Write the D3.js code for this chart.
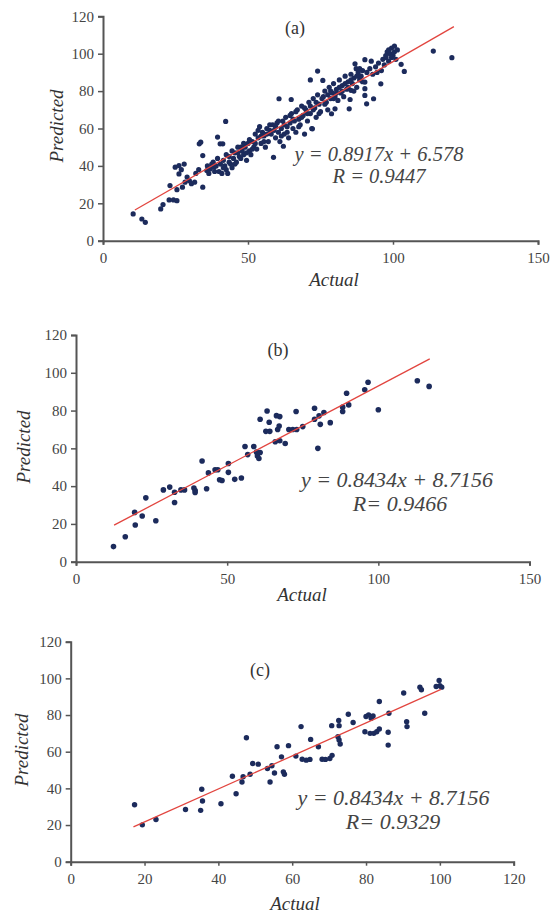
<!DOCTYPE html>
<html>
<head>
<meta charset="utf-8">
<script src="https://cdn.jsdelivr.net/npm/d3@7"></script>
<style>
  body { margin: 0; background: #fff; }
</style>
</head>
<body>
<script>
// panel (a) points
var aActual = [10.4,13.4,14.6,19.9,20.7,22.8,24.3,25.5,23.1,24.9,26.2,28,25.5,27.4,28.3,26.2,27,29.8,31.6,30.5,29,33.2,33.7,34.4,34.4,35.8,37,38.3,36.5,32,33,39.5,40.4,41.3,42.3,38,39,40,41,41.5,42,42.5,43,43.5,44,44.5,45,45.5,46,46.5,47,47.5,48,48.5,49,49.5,50,50.5,51,51.5,52,52.5,53,53.5,54,54.5,55,55.5,56,56.5,57,57.5,58,58.8,59,59.5,60,60.5,60.7,61,61.5,62,62.2,62.5,63,63.5,64,64.5,64.9,65,65.5,66,66.5,67,67.5,68,68.5,69,69.5,70,70.5,71,71.5,71.5,72,72.2,72.5,73,73.5,74,74,74.5,75,75.8,76,76.5,77,77.5,78,78.5,78.8,79,79.5,80,80,80.5,81,81.5,82,82.5,83,83.5,84,84.5,84.9,85.2,85.5,85.5,86,86.5,86.9,87.3,87.5,88,88.5,89,89.5,90.3,90.3,90.3,90.3,90.9,91,92,93,93.3,94,95,95.8,96,96.5,97,97.6,98,98.5,99,99.5,100,100.5,101,101.5,102.8,103.9,113.9,120.3,
  36,37.5,38.5,39.5,40.5,41.5,42.5,43.5,44.5,45.5,46.5,47.5,48.5,49.5,50.5,51.5,52.5,53.5,54.5,55.5,56.5,57.5,58.5,59.5,60.5,61.5,62.5,63.5,64.5,65.5,66.5,67.5,68.5,69.5,70.5,71.5,72.5,73.5,74.5,75.5,76.5,77.5,78.5,79.5,80.5,81.5,82.5,83.5,84.5,85.5,86.5,87.5,88.5,89.5,92.5,94.5,97.5,98.5,99.5,100.5];
var aPredicted = [14.3,11.6,9.8,17,19.3,21.8,21.8,21.4,29.5,39.3,40.2,41,27.3,28.6,31.3,35.7,38,32,31.3,30.5,34,51.8,52.7,45.5,28.6,37.5,38.4,39.3,36,36,38,55.4,51.8,51.8,63.8,42,40,37,36,43,40,38,36,45,41,39,44,47,42,50,45,44,48,46,50,43,52,48,46,53,50,57,49,55,61,52,58,56,50,60,53,62,57,44.6,59,55,63,58,75.9,53,60,64,50.5,57,66,61,55,63,75.5,68,60,64,58,70,65,62,72,67,57,70,64,74,86,68,60,59.8,76,71,66,90.7,78,73,69,85.7,77,80,74,70,82,76,67.9,79,84,70.5,77,81,75,86,79,83,77,88,81,85,70.5,75.5,80.4,89,84,87,94.6,92,82,90,86,88,91,96.8,84.8,81.3,77.7,73.2,90,92,89,75.9,93,95,83.9,91,97,94,98,101,96,100,103,99,101,97,102,94.3,90.5,101.4,97.9,
  40,41,37,44,41,39,46,42,48,41,47,50,52,47,54,49,52,59,56,53,57,59,62,61,64,56,62,58,67,65,69,61,66,71,68,72,70,74,68,76,73,78,80,76,79,82,80,84,82,86,80,88,92,85,96,90,99,102,98,104];

// panel (b)
var bActual = [12.4,16.3,19.4,19.6,21.9,23.1,26.4,28.9,31,32.6,32.6,34.7,35.9,39,39.4,39.4,41.7,43.2,43.8,46,46.9,47.5,48.3,50.4,50.4,52.5,54.7,55.9,56.8,58.8,59.7,60,60.5,60.9,60.9,62.8,63.2,63.9,64.1,65.9,66.3,67.4,66.7,67.2,67.4,69.2,70.4,71.7,72.8,73,75,78.9,78.9,80,80.4,80.8,82,84.1,88.2,88.2,89.5,90.2,95.5,96.6,100,112.9,116.8];
var bPredicted = [8,13.2,26.1,19.4,24.2,33.8,21.7,38,39.5,31.3,36.8,38,38,39,37.7,36.6,53.3,38.6,47,48.7,48.7,43.4,43,52,47.3,43.6,44.3,61,56.7,61,58,56,54.6,75.4,57.8,69,79.8,73.8,69,63.5,77.3,76.8,70,71.8,64,62.6,70,70,79.5,70,71.5,81.2,75.4,60,77.2,72.7,79,73.6,79.5,81.8,89.2,83,91,95,80.4,95.8,92.8];

// panel (c)
var cActual = [17.3,19.4,23.1,31.1,35.2,35.5,35.7,40.7,43.8,44.8,46.4,46.7,47.6,48.6,49.3,50.8,53.3,54,54.5,55.2,55.9,57.1,57.6,57.9,59,61,62.4,62.7,63.8,64.8,65,67.1,68.1,69,70.2,70.8,70.7,72.6,72.7,72.4,72.7,73,75.2,76.5,79.7,80,80.7,81.4,81.9,81.1,82.1,82.9,83.6,83.6,86.2,86,86,90.2,91,91.1,94.6,95,95.9,99,99.8,100,100.5];
var cPredicted = [31.1,20.1,23,28.5,28,39.5,33.1,31.6,46.6,37.1,43.5,46.3,67.6,47.7,53.6,53.2,50.8,43.5,52.3,48.4,62.7,57.2,49,47.7,63.3,57.6,73.7,55.9,55.4,55.8,66.7,62.7,55.9,55.8,56.3,58,74.2,77,74.2,68.2,66.4,64.2,80.4,75.9,70.9,79.2,80.1,78.2,79.5,70,70,70.9,72.4,87.4,81,70.6,63.6,92,76.4,73.7,95.2,93.8,81,95.6,98.9,96,95.2];

// trend lines as drawn
var fitSlope = [0.8917, 0.8434, 0.90];
var fitIntercept = [6.578, 8.7156, 3.7];
var fitFrom = [11, 12.6, 17];
var fitTo = [121, 117, 100.3];

var panelNames = ["(a)", "(b)", "(c)"];
var eqText = ["y = 0.8917x + 6.578", "y = 0.8434x + 8.7156", "y = 0.8434x + 8.7156"];
var rText = ["R = 0.9447", "R= 0.9466", "R= 0.9329"];
var xTicksA = [0, 50, 100, 150];
var xTicksC = [0, 20, 40, 60, 80, 100, 120];
var yTicks = [0, 20, 40, 60, 80, 100, 120];

var serif = "'Liberation Serif', 'Times New Roman', serif";

var svg = d3.select("body").append("svg")
    .attr("width", 551)
    .attr("height", 919)
    .attr("font-family", serif);

/**
  draws one of the three scatter panels
*/
function drawPanel(p) {
  var x = d3.scaleLinear().domain([0, p.xMax]).range([p.left, p.right]);
  var y = d3.scaleLinear().domain([0, 120]).range([p.bottom, p.top]);
  var g = svg.append("g");

  var xAxis = d3.axisBottom(x).tickValues(p.xTicks).tickSize(4).tickSizeOuter(4);
  var yAxis = d3.axisLeft(y).tickValues(yTicks).tickSize(5).tickSizeOuter(5);

  var gx = g.append("g")
      .attr("transform", "translate(0," + p.bottom + ")")
      .call(xAxis);
  var gy = g.append("g")
      .attr("transform", "translate(" + p.left + ",0)")
      .call(yAxis);

  [gx, gy].forEach(function(a) {
    a.attr("font-family", serif).attr("font-size", 15);
    a.select(".domain").attr("stroke", "#555").attr("stroke-width", 2);
    a.selectAll(".tick line").attr("stroke", "#555").attr("stroke-width", 1.5);
    a.selectAll(".tick text").attr("fill", "#444");
  });
  gx.selectAll(".tick text").attr("y", 12);
  gy.selectAll(".tick text").attr("x", -9);

  // points
  var pts = p.xs.map(function(d, i) { return [d, p.ys[i]]; });
  g.selectAll(".dot")
      .data(pts)
    .enter().append("circle")
      .attr("class", "dot")
      .attr("cx", function(d) { return x(d[0]); })
      .attr("cy", function(d) { return y(d[1]); })
      .attr("r", p.r)
      .attr("fill", "#1c2b5c");

  // trend line
  var k = p.k;
  g.append("line")
      .attr("x1", x(fitFrom[k]))
      .attr("y1", y(fitSlope[k] * fitFrom[k] + fitIntercept[k]))
      .attr("x2", x(fitTo[k]))
      .attr("y2", y(fitSlope[k] * fitTo[k] + fitIntercept[k]))
      .attr("stroke", "#e2453f")
      .attr("stroke-width", 1.3);

  g.append("text")
      .attr("x", p.nameX).attr("y", p.nameY).attr("dy", "0.35em")
      .attr("text-anchor", "middle")
      .attr("font-size", 18)
      .attr("fill", "#333")
      .text(panelNames[k]);

  g.append("text")
      .attr("x", p.eqX).attr("y", p.eqY).attr("dy", "0.35em")
      .attr("text-anchor", "middle")
      .attr("font-size", p.eqSize)
      .attr("font-style", "italic")
      .attr("fill", "#444")
      .text(eqText[k]);

  g.append("text")
      .attr("x", p.rX).attr("y", p.rY).attr("dy", "0.35em")
      .attr("text-anchor", "middle")
      .attr("font-size", p.eqSize)
      .attr("font-style", "italic")
      .attr("fill", "#444")
      .text(rText[k]);

  g.append("text")
      .attr("transform", "translate(" + p.predX + "," + p.predY + ") rotate(-90)")
      .attr("dy", "0.35em")
      .attr("text-anchor", "middle")
      .attr("font-size", 19)
      .attr("font-style", "italic")
      .attr("fill", "#333")
      .text("Predicted");

  g.append("text")
      .attr("x", p.actX).attr("y", p.actY).attr("dy", "0.35em")
      .attr("text-anchor", "middle")
      .attr("font-size", 19)
      .attr("font-style", "italic")
      .attr("fill", "#333")
      .text("Actual");
}

drawPanel({k: 0, xs: aActual, ys: aPredicted, xMax: 150, xTicks: xTicksA, r: 2.6,
  left: 103, right: 538, top: 16.3, bottom: 240.7,
  nameX: 295, nameY: 28, eqX: 379, eqY: 154, rX: 379, rY: 176, eqSize: 20.5,
  predX: 56, predY: 126, actX: 334, actY: 279});

drawPanel({k: 1, xs: bActual, ys: bPredicted, xMax: 150, xTicks: xTicksA, r: 2.8,
  left: 76, right: 529.5, top: 335, bottom: 561.7,
  nameX: 278, nameY: 350, eqX: 397, eqY: 479, rX: 400, rY: 503, eqSize: 22,
  predX: 23, predY: 447, actX: 302, actY: 594});

drawPanel({k: 2, xs: cActual, ys: cPredicted, xMax: 120, xTicks: xTicksC, r: 2.7,
  left: 70.7, right: 513.7, top: 641.7, bottom: 861.7,
  nameX: 260, nameY: 670, eqX: 393.5, eqY: 797, rX: 393, rY: 821, eqSize: 22,
  predX: 21, predY: 750, actX: 295, actY: 903});
</script>
</body>
</html>
